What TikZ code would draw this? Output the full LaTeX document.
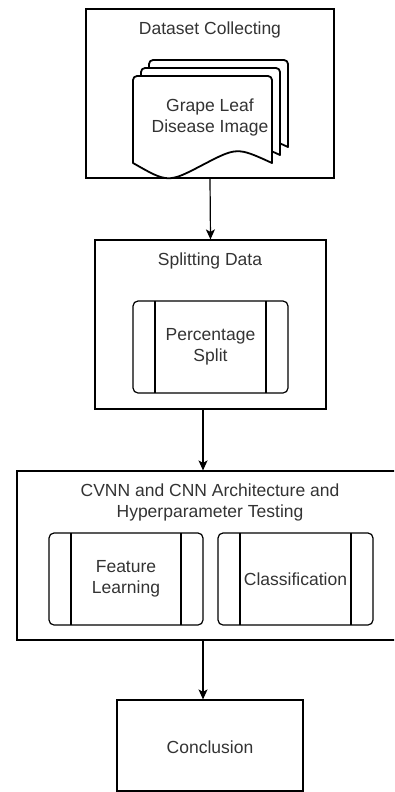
\documentclass[tikz,border=0pt]{standalone}
\usepackage{fontspec}
\setmainfont{Liberation Sans}
\usetikzlibrary{arrows.meta,positioning,calc}

\tikzset{
  stage/.style={draw,line width=1.2pt,minimum width=#1,minimum height=169pt,inner sep=0pt},
  title/.style={font=\fontsize{17.5}{21}\selectfont,text=black!80,align=center},
  proc/.style={draw,line width=1.2pt,rounded corners=5pt,minimum width=155pt,minimum height=92pt,
    inner sep=0pt,font=\fontsize{17.5}{21}\selectfont,text=black!80,align=center,
    path picture={
      \draw[line width=1.2pt] ([xshift=22pt]path picture bounding box.north west) -- ([xshift=22pt]path picture bounding box.south west);
      \draw[line width=1.2pt] ([xshift=-22pt]path picture bounding box.north east) -- ([xshift=-22pt]path picture bounding box.south east);
    }},
  doc/.style={draw,fill=white,line width=1.8pt,line join=round},
  arr/.style={line width=1.2pt,-{Stealth[length=10pt,width=9pt,inset=2.5pt]}}
}

\begin{document}
\begin{tikzpicture}[x=1pt,y=-1pt]
  \useasboundingbox (0,0) rectangle (394,792);
  \clip (0,0) rectangle (394,792);

  % Dataset collecting
  \node[stage=248pt] (collect) at (210,93.5) {};
  \node[title] (collectT) at (210,30) {Dataset Collecting};
  \foreach \d in {16,8,0} {
    \draw[doc] (133+\d,163-\d) [rounded corners=4pt] -- (133+\d,76-\d) -- (272+\d,76-\d) [sharp corners] -- (272+\d,163-\d)
      .. controls (237+\d,147-\d) .. (202.5+\d,165-\d) .. controls (168+\d,183-\d) .. (133+\d,163-\d) -- cycle;
  }
  \node[title] (images) at (210,117.5) {Grape Leaf\\Disease Image};

  % Splitting data
  \node[stage=231pt] (split) at (210.5,324.5) {};
  \node[title] (splitT) at (210,261) {Splitting Data};
  \node[proc] (pct) at (210.5,347) {Percentage\\Split};

  % Architecture and testing
  \node[stage=386pt] (arch) at (210,555.5) {};
  \node[title] (archT) at (210,502.5) {CVNN and CNN Architecture and\\Hyperparameter Testing};
  \node[proc,minimum width=154pt] (feat) at (126,579) {Feature\\Learning};
  \node[proc] (cls) at (295.5,579) {Classification};

  % Conclusion
  \node[stage=186pt,minimum height=91pt] (conc) at (210,745.5) {};
  \node[title] (concT) at (210,747) {Conclusion};

  % Flow
  \draw[arr] (collect.south) -- (split.north);
  \draw[arr] ([xshift=-7.5pt]split.south) -- ([xshift=-7.5pt]split.south |- arch.north);
  \draw[arr] ([xshift=-7pt]arch.south) -- ([xshift=-7pt]arch.south |- conc.north);
\end{tikzpicture}
\end{document}
